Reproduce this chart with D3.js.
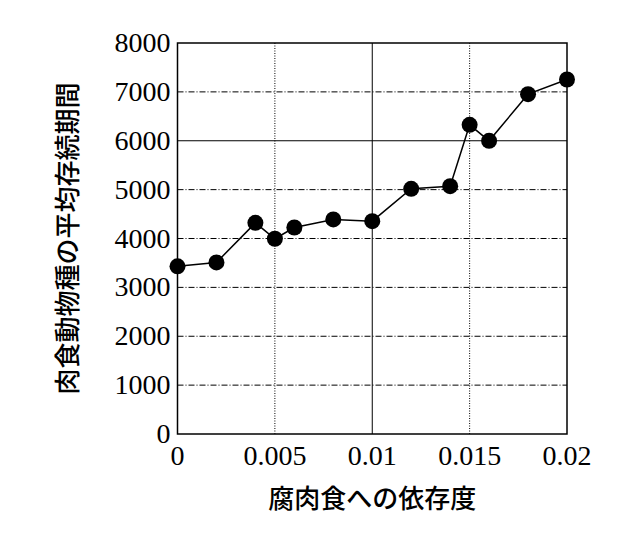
<!DOCTYPE html>
<html><head><meta charset="utf-8">
<script src="https://cdn.jsdelivr.net/npm/d3@7"></script>
<style>body{margin:0;background:#fff}</style>
</head><body>
<script>
const dependence = [0, 0.002, 0.004, 0.005, 0.006, 0.008, 0.01, 0.012, 0.014, 0.015, 0.016, 0.018, 0.02];
const persistence = [3430, 3510, 4320, 3995, 4225, 4390, 4355, 5017, 5070, 6325, 5998, 6953, 7253];
const xTicks = [0, 0.005, 0.01, 0.015, 0.02];
const yTicks = [0, 1000, 2000, 3000, 4000, 5000, 6000, 7000, 8000];
const xTitle = '腐肉食への依存度';
const yTitle = '肉食動物種の平均存続期間';

const W = 637, H = 535;
const m = {left: 177.5, right: 70, top: 43, bottom: 101};
const svg = d3.select('body').append('svg').attr('width', W).attr('height', H);
const x = d3.scaleLinear().domain([0, 0.02]).range([m.left, W - m.right]);
const y = d3.scaleLinear().domain([0, 8000]).range([H - m.bottom, m.top]);

// grid
yTicks.slice(1, -1).forEach(v => {
  svg.append('line').attr('x1', x(0)).attr('x2', x(0.02)).attr('y1', y(v)).attr('y2', y(v))
    .attr('stroke', '#000').attr('stroke-width', 1)
    .attr('stroke-dasharray', v === 6000 ? null : '6,2,1,2');
});
xTicks.slice(1, -1).forEach(v => {
  svg.append('line').attr('x1', x(v)).attr('x2', x(v)).attr('y1', y(0)).attr('y2', y(8000))
    .attr('stroke', '#000').attr('stroke-width', 1)
    .attr('stroke-dasharray', v === 0.01 ? null : '1,1.5');
});
svg.append('rect').attr('x', x(0)).attr('y', y(8000)).attr('width', x(0.02) - x(0)).attr('height', y(0) - y(8000))
  .attr('fill', 'none').attr('stroke', '#000').attr('stroke-width', 1.5);

const serif = '"Liberation Serif", "DejaVu Serif", serif';
svg.selectAll('.yt').data(yTicks).enter().append('text')
  .attr('x', x(0) - 7).attr('y', d => y(d) + 9).attr('text-anchor', 'end')
  .attr('font-family', serif).attr('font-size', 28).text(d => d);
svg.selectAll('.xt').data(xTicks).enter().append('text')
  .attr('x', d => x(d)).attr('y', y(0) + 31).attr('text-anchor', 'middle')
  .attr('font-family', serif).attr('font-size', 28).text(d => d);

const pts = dependence.map((d, i) => [d, persistence[i]]);
svg.append('path').datum(pts)
  .attr('d', d3.line().x(d => x(d[0])).y(d => y(d[1])))
  .attr('fill', 'none').attr('stroke', '#000').attr('stroke-width', 1.5);
svg.selectAll('circle').data(pts).enter().append('circle')
  .attr('cx', d => x(d[0])).attr('cy', d => y(d[1])).attr('r', 8).attr('fill', '#000');

const cjk = '"Noto Sans CJK JP", sans-serif';
svg.append('text').attr('x', x(0.01)).attr('y', 508).attr('text-anchor', 'middle')
  .attr('font-family', cjk).attr('font-weight', 500).attr('font-size', 26).text(xTitle);
svg.append('text').attr('transform', `translate(77,${(y(0) + y(8000)) / 2}) rotate(-90)`)
  .attr('text-anchor', 'middle').attr('font-family', cjk).attr('font-weight', 500).attr('font-size', 26).text(yTitle);
</script>
</body></html>
